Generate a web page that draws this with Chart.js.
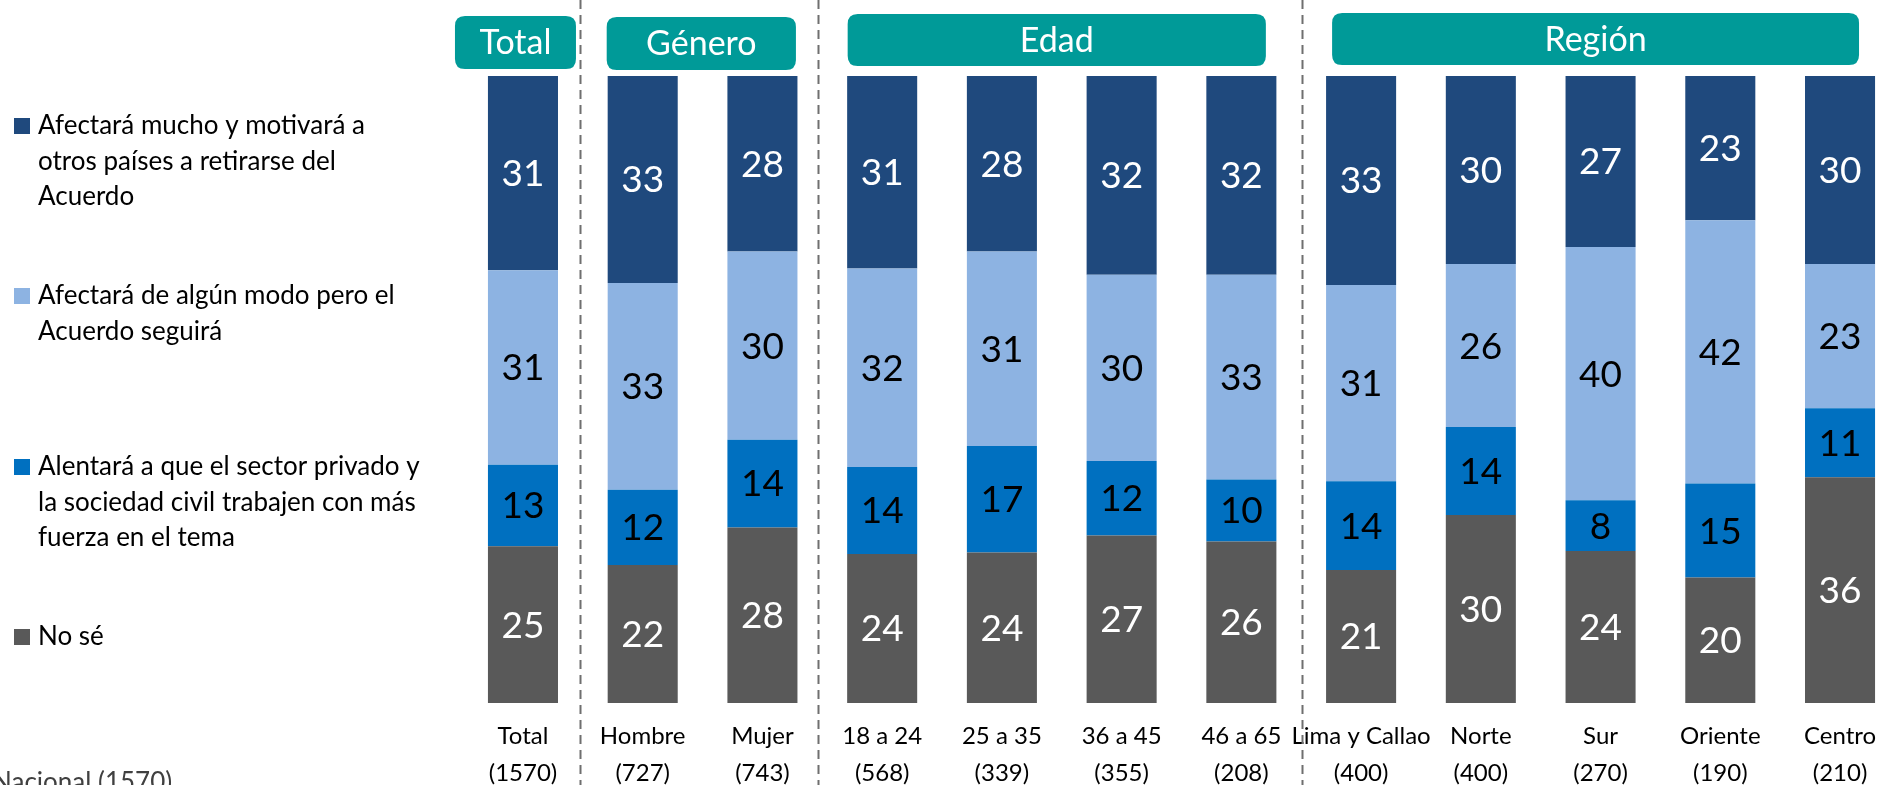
<!DOCTYPE html>
<html><head><meta charset="utf-8">
<script src="https://cdn.jsdelivr.net/npm/chart.js@4/dist/chart.umd.min.js"></script>
<style>
html,body{margin:0;padding:0;background:#fff;overflow:hidden;width:1879px;height:785px}
#wrap{position:absolute;left:0;top:0;width:1920px;height:785px}
</style></head>
<body><div id="wrap"><canvas id="c" width="1920" height="785"></canvas></div>
<script>
// ---- data ----
const categories = ['Total','Hombre','Mujer','18 a 24','25 a 35','36 a 45','46 a 65','Lima y Callao','Norte','Sur','Oriente','Centro'];
const sampleSizes = ['(1570)','(727)','(743)','(568)','(339)','(355)','(208)','(400)','(400)','(270)','(190)','(210)'];
const afectaraMucho = [31,33,28,31,28,32,32,33,30,27,23,30];
const afectaraAlgun = [31,33,30,32,31,30,33,31,26,40,42,23];
const alentara      = [13,12,14,14,17,12,10,14,14, 8,15,11];
const noSe          = [25,22,28,24,24,27,26,21,30,24,20,36];
const nameMucho   = ['Afectará mucho y motivará a','otros países a retirarse del','Acuerdo'];
const nameAlgun   = ['Afectará de algún modo pero el','Acuerdo seguirá'];
const nameAlentar = ['Alentará a que el sector privado y','la sociedad civil trabajen con más','fuerza en el tema'];
const nameNoSe    = ['No sé'];
const groupLabels = ['Total','Género','Edad','Región'];
const groupFrom   = [0,1,3,7];
const groupTo     = [0,2,6,11];
const footnote = 'Nacional (1570)';

// ---- styles ----
const C_MUCHO='#1f497d', C_ALGUN='#8db3e2', C_ALENT='#0070c0', C_NOSE='#595959', C_TEAL='#009a98';
const FONT='Lato';
const totals = categories.map((_,i)=>afectaraMucho[i]+afectaraAlgun[i]+alentara[i]+noSe[i]);
const pct = arr => arr.map((v,i)=>v/totals[i]*100);

const series = [
  {raw:noSe, name:nameNoSe, color:C_NOSE, txt:'#ffffff'},
  {raw:alentara, name:nameAlentar, color:C_ALENT, txt:'#000000'},
  {raw:afectaraAlgun, name:nameAlgun, color:C_ALGUN, txt:'#000000'},
  {raw:afectaraMucho, name:nameMucho, color:C_MUCHO, txt:'#ffffff'}
];

// header box geometry (style): pixel offsets from first/last category centre
const boxL=[-68,-36,-34.5,-29], boxR=[53,33.5,24.5,19];
const boxT=[16,17,14,13], boxB=[69,70,66,65];
const sepAfter=[0,2,6], sepOff=[57,55.5,60.5];
const legendY=[126,296,467,637];

function rr(ctx,x,y,w,h,r){ctx.beginPath();ctx.moveTo(x+r,y);ctx.lineTo(x+w-r,y);ctx.quadraticCurveTo(x+w,y,x+w,y+r);ctx.lineTo(x+w,y+h-r);ctx.quadraticCurveTo(x+w,y+h,x+w-r,y+h);ctx.lineTo(x+r,y+h);ctx.quadraticCurveTo(x,y+h,x,y+h-r);ctx.lineTo(x,y+r);ctx.quadraticCurveTo(x,y,x+r,y);ctx.closePath();}

const decor = {
  id:'decor',
  beforeDatasetsDraw(chart){
    const ctx=chart.ctx, xs=chart.scales.x;
    ctx.save();
    ctx.strokeStyle='#6f6f6f'; ctx.lineWidth=2; ctx.setLineDash([9,6]);
    sepAfter.forEach((idx,k)=>{
      const x=Math.round(xs.getPixelForValue(idx)+sepOff[k])+0.5;
      ctx.beginPath(); ctx.moveTo(x,0); ctx.lineTo(x,785); ctx.stroke();
    });
    ctx.restore();
  },
  afterDraw(chart){
    const ctx=chart.ctx, xs=chart.scales.x;
    ctx.save();
    // data labels
    ctx.font='37px '+FONT; ctx.textAlign='center'; ctx.textBaseline='middle';
    series.forEach((s,di)=>{
      const meta=chart.getDatasetMeta(di);
      meta.data.forEach((el,i)=>{
        ctx.fillStyle=s.txt;
        ctx.fillText(String(s.raw[i]), el.x, (el.y+el.base)/2+1);
      });
    });
    // header boxes
    groupLabels.forEach((lab,k)=>{
      const l=xs.getPixelForValue(groupFrom[k])+boxL[k], r=xs.getPixelForValue(groupTo[k])+boxR[k];
      ctx.fillStyle=C_TEAL; rr(ctx,l,boxT[k],r-l,boxB[k]-boxT[k],10); ctx.fill();
      ctx.fillStyle='#ffffff'; ctx.font='34px '+FONT; ctx.textAlign='center'; ctx.textBaseline='middle';
      ctx.fillText(lab,(l+r)/2,(boxT[k]+boxB[k])/2+1);
    });
    // legend (top to bottom: reverse stacking order)
    const leg=[series[3],series[2],series[1],series[0]];
    ctx.font='26px '+FONT; ctx.textAlign='left'; ctx.textBaseline='middle';
    leg.forEach((s,k)=>{
      const y0=legendY[k];
      ctx.fillStyle=s.color; ctx.fillRect(14,y0-8,16,16);
      ctx.fillStyle='#000000';
      s.name.forEach((line,j)=>ctx.fillText(line,38,y0+j*35.5));
    });
    // footnote
    ctx.fillStyle='#404040'; ctx.font='26px '+FONT; ctx.textBaseline='alphabetic';
    ctx.fillText(footnote,-8,791);
    ctx.restore();
  }
};

new Chart(document.getElementById('c'),{
  type:'bar',
  data:{
    labels:categories.map((c,i)=>[c,sampleSizes[i]]),
    datasets:series.map(s=>({label:s.name.join(' '),data:pct(s.raw),backgroundColor:s.color,borderWidth:0,barPercentage:0.585,categoryPercentage:1}))
  },
  options:{
    responsive:false, animation:false,
    layout:{padding:{left:463.1,right:20.1,top:76,bottom:0}},
    plugins:{legend:{display:false},tooltip:{enabled:false}},
    scales:{
      x:{stacked:true,grid:{display:false,drawTicks:false},border:{display:false},
         ticks:{autoSkip:false,maxRotation:0,padding:14.5,color:'#000',font:{family:FONT,size:24,lineHeight:37/24}},
         afterFit(s){s.height=82;}},
      y:{stacked:true,display:false,min:0,max:100}
    }
  },
  plugins:[decor]
});
</script>
</body></html>
